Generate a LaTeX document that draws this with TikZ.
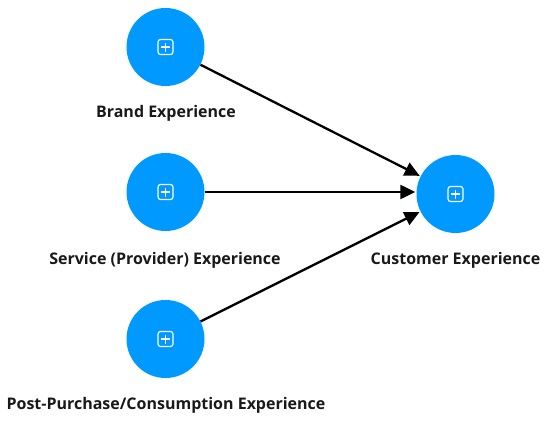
\documentclass[tikz,border=0pt]{standalone}
\usepackage{fontspec}
\setmainfont{Open Sans}
\usetikzlibrary{arrows.meta}
\definecolor{lvblue}{RGB}{0,153,255}
\tikzset{
  construct/.style={circle,fill=lvblue,draw=none,minimum size=78pt,inner sep=0pt},
  caption/.style={font=\bfseries\fontsize{16}{18}\selectfont,text=black!90,inner sep=0pt,anchor=center},
  link/.style={line width=2.3pt,draw=black,-{Triangle[length=15pt,width=14pt]},shorten >=1pt},
  plusicon/.pic={
    \draw[white,line width=1.1pt,rounded corners=2.5pt] (-7.5,-7.5) rectangle (7.5,7.5);
    \draw[white,line width=1.1pt] (-4.5,0) -- (4.5,0) (0,-4.5) -- (0,4.5);
  }
}
\begin{document}
\begin{tikzpicture}[x=1pt,y=-1pt]
\useasboundingbox (0,0) rectangle (550,421);
\node[construct] (brand) at (165.5,47) {};
\node[construct] (service) at (165.5,192) {};
\node[construct] (post) at (165.5,339) {};
\node[construct] (cust) at (455.5,194) {};
\pic at (brand) {plusicon};
\pic at (service) {plusicon};
\pic at (post) {plusicon};
\pic at (cust) {plusicon};
\node[caption] (l1) at (166,113) {Brand Experience};
\node[caption] (l2) at (165,260) {Service (Provider) Experience};
\node[caption] (l3) at (166,405) {Post-Purchase/Consumption Experience};
\node[caption] (l4) at (455.5,260) {Customer Experience};
\draw[link] (brand) -- (cust);
\draw[link] (service) -- (cust.west |- service);
\draw[link] (post) -- (cust);
\end{tikzpicture}
\end{document}
